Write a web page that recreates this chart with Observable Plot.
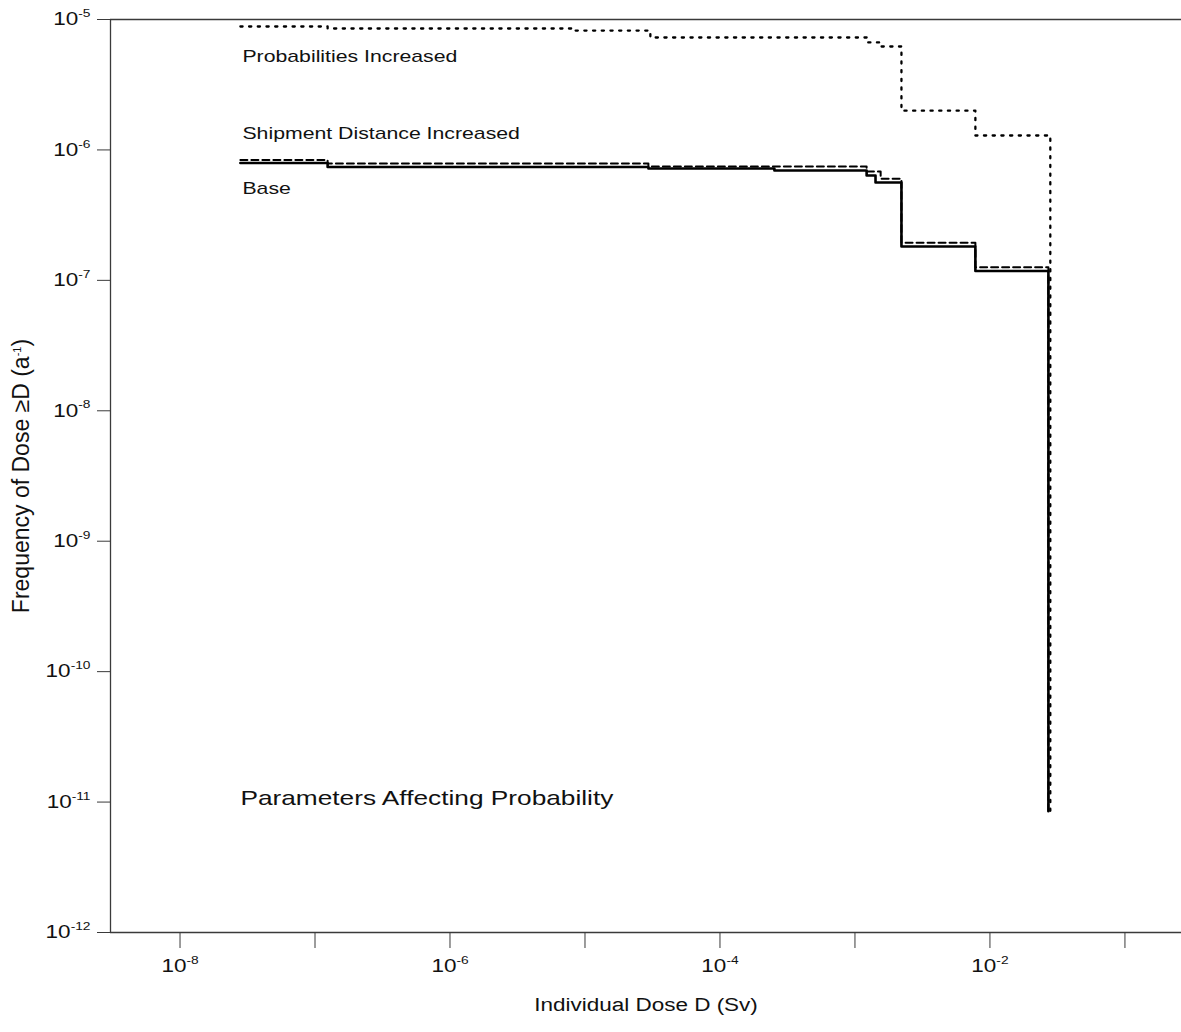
<!DOCTYPE html>
<html>
<head>
<meta charset="utf-8">
<script src="https://cdn.jsdelivr.net/npm/d3@7"></script>
<script src="https://cdn.jsdelivr.net/npm/@observablehq/plot@0.6"></script>
<style>
  html, body { margin: 0; padding: 0; background: #fff; }
</style>
</head>
<body>
<div id="chart"></div>
<script>
// Complementary cumulative frequency of individual dose, three cases.
// Each curve is a step function: frequency holds from one dose threshold to the next.

// Base case
const baseDose = [2.8e-8, 1.24e-7, 2.95e-5, 2.53e-4, 1.22e-3, 1.42e-3, 2.21e-3, 7.8e-3, 2.71e-2];
const baseFreq = [7.94e-7, 7.40e-7, 7.21e-7, 6.95e-7, 6.37e-7, 5.62e-7, 1.82e-7, 1.18e-7, 8.5e-12];

// Shipment distance increased
const shipDose = [2.8e-8, 1.24e-7, 2.95e-5, 1.22e-3, 1.55e-3, 2.21e-3, 7.8e-3, 2.71e-2];
const shipFreq = [8.37e-7, 7.87e-7, 7.46e-7, 6.84e-7, 6.01e-7, 1.94e-7, 1.26e-7, 8.5e-12];

// Probabilities increased
const probDose = [2.8e-8, 1.24e-7, 8.5e-6, 3.05e-5, 1.22e-3, 1.55e-3, 2.21e-3, 7.8e-3, 2.8e-2];
const probFreq = [8.84e-6, 8.53e-6, 8.23e-6, 7.28e-6, 6.67e-6, 6.21e-6, 2.0e-6, 1.29e-6, 8.5e-12];

// Axis decades (exponents of ten)
const xTickExp = [-8, -7, -6, -5, -4, -3, -2, -1];
const xLabelExp = [-8, -6, -4, -2];
const yTickExp = [-12, -11, -10, -9, -8, -7, -6, -5];

// Curve labels and the panel note
const curveLabels = ["Probabilities Increased", "Shipment Distance Increased", "Base"];
const curveLabelDose = [2.9e-8, 2.9e-8, 2.9e-8];
const curveLabelFreq = [5.2e-6, 1.34e-6, 5.06e-7];
const noteText = "Parameters Affecting Probability";
const noteDose = 2.8e-8;
const noteFreq = 1.06e-11;

const xTitle = "Individual Dose D (Sv)";
const yTitle = "Frequency of Dose \u2265D (a^-1)";

const toRows = (xs, ys) => xs.map((d, i) => ({dose: d, freq: ys[i]}));
const base = toRows(baseDose, baseFreq);
const ship = toRows(shipDose, shipFreq);
const prob = toRows(probDose, probFreq);
const labels = curveLabels.map((t, i) => ({text: t, dose: curveLabelDose[i], freq: curveLabelFreq[i]}));

const xMin = 10 ** -8.515, xMax = 10 ** -0.581;
const yMin = 1e-12, yMax = 1e-5;
const axisColor = "#3a3a3a";

const chart = Plot.plot({
  width: 1181,
  height: 1032,
  marginLeft: 110,
  marginRight: 0,
  marginTop: 19,
  marginBottom: 100,
  style: {
    fontFamily: "'Liberation Sans', Arial, Helvetica, sans-serif",
    fontSize: "18px",
    background: "#fff",
    color: "#111"
  },
  x: {type: "log", domain: [xMin, xMax]},
  y: {type: "log", domain: [yMin, yMax]},
  marks: [
    // frame lines: bottom axis, left axis, top edge
    Plot.ruleY([yMin], {stroke: axisColor, strokeWidth: 1.3}),
    Plot.ruleY([yMax], {stroke: axisColor, strokeWidth: 1.3}),
    Plot.ruleX([xMin], {stroke: axisColor, strokeWidth: 1.3}),

    // decade ticks
    Plot.axisX({ticks: xTickExp.map(e => 10 ** e), tickSize: 16, tickFormat: () => "", label: null, stroke: axisColor}),
    Plot.axisY({ticks: yTickExp.map(e => 10 ** e), tickSize: 13, tickFormat: () => "", label: null, stroke: axisColor}),

    // decade labels
    Plot.text(xLabelExp, {
      x: e => 10 ** e, frameAnchor: "bottom", dy: 34,
      text: e => `10^${e}`, fontSize: 18, lineAnchor: "middle", fill: "#111"
    }),
    Plot.text(yTickExp, {
      y: e => 10 ** e, frameAnchor: "left", dx: -20, textAnchor: "end",
      text: e => `10^${e}`, fontSize: 18, lineAnchor: "middle", fill: "#111"
    }),

    // axis titles
    Plot.text([xTitle], {frameAnchor: "bottom", dy: 78, text: d => d, fontSize: 18, fill: "#111"}),
    Plot.text([yTitle], {frameAnchor: "left", dx: -89, rotate: -90, textAnchor: "middle", text: d => d, fontSize: 23, fill: "#111"}),

    // curves
    Plot.line(ship, {x: "dose", y: "freq", curve: "step-after", stroke: "#000", strokeWidth: 2, strokeDasharray: "7,4"}),
    Plot.line(base, {x: "dose", y: "freq", curve: "step-after", stroke: "#000", strokeWidth: 2.6}),
    Plot.line(prob, {x: "dose", y: "freq", curve: "step-after", stroke: "#000", strokeWidth: 2.3, strokeDasharray: "2.2,6.5"}),

    // curve labels and note
    Plot.text(labels, {x: "dose", y: "freq", text: "text", textAnchor: "start", fontSize: 17, fill: "#111"}),
    Plot.text([noteText], {x: () => noteDose, y: () => noteFreq, text: d => d, textAnchor: "start", fontSize: 21, fill: "#111"})
  ]
});

document.getElementById("chart").appendChild(chart);

const SVGNS = "http://www.w3.org/2000/svg";

// Turn "base^exp" into a raised exponent.
d3.select(chart).selectAll("text").each(function () {
  const el = this;
  if (el.querySelector("tspan")) return;
  const s = el.textContent;
  if (!s || s.indexOf("^") < 0) return;
  const size = parseFloat(el.getAttribute("font-size")) || 18;
  el.textContent = "";
  const parts = s.split(/\^(-?\d+)/);
  for (let i = 0; i < parts.length; i++) {
    const p = parts[i];
    if (p === "") continue;
    const t = document.createElementNS(SVGNS, "tspan");
    t.textContent = p;
    if (i % 2 === 1) {
      t.setAttribute("font-size", Math.round(size * 0.6));
      t.setAttribute("dy", -size * 0.45);
      el.appendChild(t);
      // back to the main baseline for any text that follows
      if (i + 1 < parts.length && parts[i + 1] !== "") {
        const back = document.createElementNS(SVGNS, "tspan");
        back.setAttribute("dy", size * 0.45);
        back.textContent = parts[i + 1];
        el.appendChild(back);
        i++;
      }
    } else {
      el.appendChild(t);
    }
  }
});

// The typeface is set wide: widen each horizontal label about its anchor point.
const WIDEN = 1.25;
const texts = Array.from(chart.querySelectorAll("text")).filter(el => {
  const tr = (el.getAttribute("transform") || "") + (el.parentNode.getAttribute("transform") || "");
  return el.textContent && !/rotate/.test(tr);
});
texts.forEach(el => {
  const r = el.getBoundingClientRect();
  const anchor = getComputedStyle(el).textAnchor;
  const sx = anchor === "middle" ? (r.left + r.right) / 2 : anchor === "end" ? r.right : r.left;
  const parent = el.parentNode;
  const p = new DOMPoint(sx, r.top).matrixTransform(parent.getScreenCTM().inverse());
  const g = document.createElementNS(SVGNS, "g");
  g.setAttribute("transform", `translate(${p.x},0) scale(${WIDEN},1) translate(${-p.x},0)`);
  parent.insertBefore(g, el);
  g.appendChild(el);
});
</script>
</body>
</html>
